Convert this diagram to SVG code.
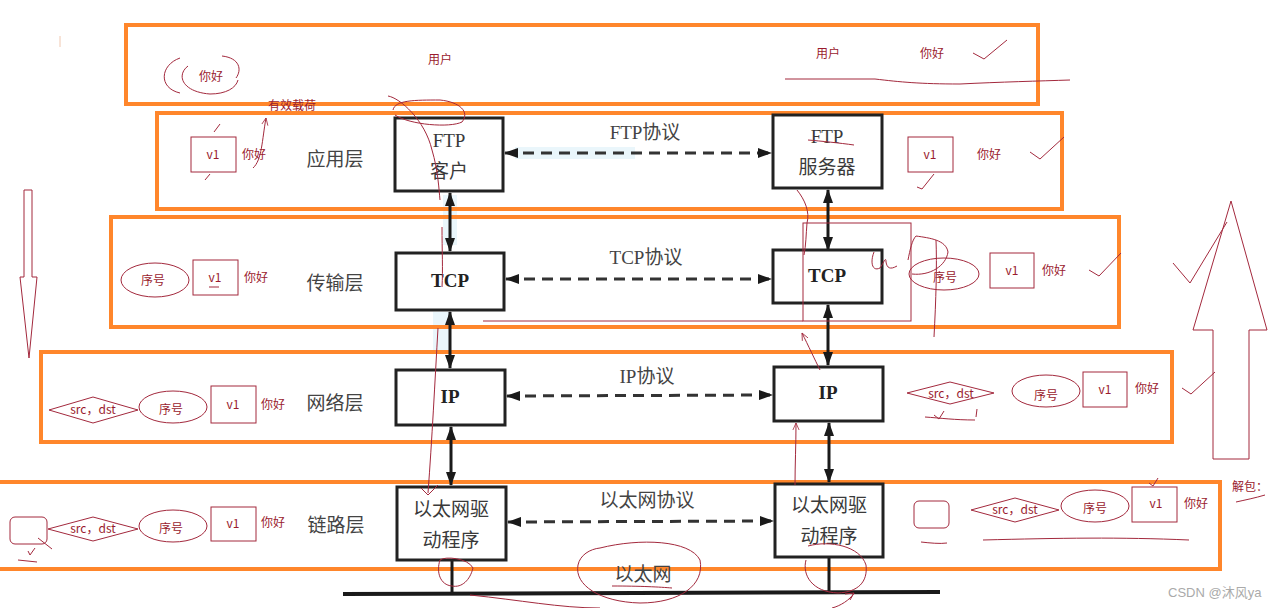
<svg xmlns="http://www.w3.org/2000/svg" width="1272" height="608" viewBox="0 0 1272 608">
<defs>
<marker id="ah" viewBox="0 0 14 10" refX="13" refY="5" markerWidth="14" markerHeight="10" markerUnits="userSpaceOnUse" orient="auto-start-reverse"><path d="M0,0 L14,5 L0,10 Z" fill="#1a1a1a"/></marker>
<marker id="rh" viewBox="0 0 10 10" refX="9" refY="5" markerWidth="8" markerHeight="8" markerUnits="userSpaceOnUse" orient="auto"><path d="M0,1 L9,5 L0,9" fill="none" stroke="#a3293d" stroke-width="1"/></marker>
<style>
.layer{fill:none;stroke:#ff862b;stroke-width:4}
.box{fill:#fff;stroke:#222;stroke-width:3}
.lbl{font-family:"Liberation Serif","Noto Sans CJK SC",serif;font-size:19px;fill:#444;text-anchor:middle}
.bt{font-family:"Liberation Serif","Noto Sans CJK SC",serif;font-size:19px;fill:#3a3a3a;text-anchor:middle}
.bb{font-family:"Liberation Serif","Noto Sans CJK SC",serif;font-size:19px;font-weight:bold;fill:#222;text-anchor:middle}
.v{stroke:#1a1a1a;stroke-width:3;fill:none}
.d{stroke:#333;stroke-width:3;stroke-dasharray:11 7;fill:none}
.r{fill:none;stroke:#a3293d;stroke-width:1}
.rt{font-family:"Noto Sans CJK SC","Liberation Sans",sans-serif;font-size:12px;fill:#9a1b2e;text-anchor:middle}
.wm{font-family:"Liberation Sans","Noto Sans CJK SC",sans-serif;font-size:13px;fill:#aaa}
</style>
</defs>
<rect width="1272" height="608" fill="#fff"/>

<!-- light blue smudges -->
<g fill="#eaf6fb">
<rect x="515" y="147" width="120" height="12"/>
<rect x="443" y="195" width="14" height="50"/>
<rect x="433" y="312" width="16" height="38"/>
</g>

<g id="layers">
<rect id="layer-user" class="layer" x="126" y="25" width="912" height="79"/>
<rect id="layer-app" class="layer" x="157" y="113" width="905" height="96"/>
<rect id="layer-transport" class="layer" x="111" y="217" width="1008" height="110"/>
<rect id="layer-network" class="layer" x="41" y="352" width="1131" height="90"/>
<rect id="layer-link" class="layer" x="-5" y="482" width="1225" height="87"/>
</g>

<g id="connectors">
<line class="v" x1="450" y1="193" x2="450" y2="251" marker-start="url(#ah)" marker-end="url(#ah)"/>
<line class="v" x1="450" y1="312" x2="450" y2="368" marker-start="url(#ah)" marker-end="url(#ah)"/>
<line class="v" x1="451" y1="427" x2="451" y2="485" marker-start="url(#ah)" marker-end="url(#ah)"/>
<line class="v" x1="452" y1="560" x2="452" y2="593"/>
<line class="v" x1="828" y1="190" x2="828" y2="250" marker-start="url(#ah)" marker-end="url(#ah)"/>
<line class="v" x1="828" y1="305" x2="828" y2="365" marker-start="url(#ah)" marker-end="url(#ah)"/>
<line class="v" x1="829" y1="423" x2="829" y2="482" marker-start="url(#ah)" marker-end="url(#ah)"/>
<line class="v" x1="829" y1="557" x2="829" y2="593"/>
<line class="d" x1="505" y1="153" x2="771" y2="153" marker-start="url(#ah)" marker-end="url(#ah)"/>
<line class="d" x1="506" y1="279" x2="771" y2="279" marker-start="url(#ah)" marker-end="url(#ah)"/>
<line class="d" x1="507" y1="396" x2="772" y2="395" marker-start="url(#ah)" marker-end="url(#ah)"/>
<line class="d" x1="508" y1="522" x2="773" y2="521" marker-start="url(#ah)" marker-end="url(#ah)"/>
<line x1="343" y1="594" x2="940" y2="592" stroke="#1a1a1a" stroke-width="4"/>
</g>

<g id="node-ftp-client"><rect class="box" x="395" y="118" width="108" height="73"/><text class="bt" x="449" y="147">FTP</text><text class="bt" x="449" y="178">客户</text></g>
<g id="node-ftp-server"><rect class="box" x="773" y="115" width="109" height="73"/><text class="bt" x="827" y="143">FTP</text><text class="bt" x="827" y="174">服务器</text></g>
<g id="node-tcp-left"><rect class="box" x="396" y="253" width="108" height="57"/><text class="bb" x="450" y="287">TCP</text></g>
<g id="node-tcp-right"><rect class="box" x="773" y="250" width="109" height="53"/><text class="bb" x="827" y="282">TCP</text></g>
<g id="node-ip-left"><rect class="box" x="396" y="370" width="109" height="55"/><text class="bb" x="450" y="403">IP</text></g>
<g id="node-ip-right"><rect class="box" x="774" y="367" width="109" height="54"/><text class="bb" x="828" y="399">IP</text></g>
<g id="node-eth-left"><rect class="box" x="397" y="487" width="109" height="73"/><text class="bt" x="451" y="516">以太网驱</text><text class="bt" x="451" y="547">动程序</text></g>
<g id="node-eth-right"><rect class="box" x="775" y="484" width="108" height="73"/><text class="bt" x="829" y="512">以太网驱</text><text class="bt" x="829" y="543">动程序</text></g>

<g id="labels">
<text class="lbl" x="335" y="166">应用层</text>
<text class="lbl" x="335" y="290">传输层</text>
<text class="lbl" x="335" y="410">网络层</text>
<text class="lbl" x="336" y="532">链路层</text>
<text class="lbl" x="645" y="139">FTP协议</text>
<text class="lbl" x="646" y="264">TCP协议</text>
<text class="lbl" x="647" y="383">IP协议</text>
<text class="lbl" x="647" y="507">以太网协议</text>
<text class="lbl" x="643" y="581">以太网</text>
</g>

<g id="annotations">
<!-- user layer -->
<text class="rt" x="440" y="64">用户</text>
<text class="rt" x="211" y="81">你好</text>
<path class="r" d="M180,58 C160,65 158,88 180,93 M188,66 C176,75 182,92 210,94 C226,94 236,88 238,80 M222,56 C240,58 242,70 236,78"/>
<text class="rt" x="292" y="110">有效载荷</text>
<path class="r" d="M253,168 C262,160 262,140 266,118" marker-end="url(#rh)"/>
<text class="rt" x="828" y="58">用户</text>
<text class="rt" x="932" y="58">你好</text>
<path class="r" d="M973,53 L984,59 L1007,40"/>
<path class="r" d="M785,79 L875,79 C900,82 920,84 960,84 C1000,82 1040,81 1070,80"/>
<line x1="60" y1="36" x2="60" y2="47" stroke="#f0c8b0" stroke-width="1"/>

<!-- app layer -->
<rect class="r" x="191" y="137" width="45" height="35"/>
<text class="rt" x="213" y="159">v1</text>
<text class="rt" x="254" y="159">你好</text>
<path class="r" d="M214,132 L220,124 M205,180 L210,174"/>
<rect class="r" x="908" y="137" width="45" height="35"/>
<text class="rt" x="930" y="159">v1</text>
<text class="rt" x="989" y="159">你好</text>
<path class="r" d="M1030,152 L1040,159 L1064,137 M917,187 L922,189 L934,174"/>
<path class="r" d="M808,140 C820,141 840,143 854,145"/>
<path class="r" d="M388,96 C400,98 425,120 432,150 C438,170 439,190 440,200"/>
<path class="r" d="M393,110 C395,100 415,100 440,100 C460,102 470,112 462,122 C450,128 410,125 395,115"/>

<!-- transport layer -->
<ellipse class="r" cx="155" cy="280" rx="34" ry="17"/>
<text class="rt" x="153" y="285">序号</text>
<rect class="r" x="193" y="260" width="45" height="35"/>
<text class="rt" x="215" y="282">v1</text>
<line class="r" x1="209" y1="287" x2="219" y2="287"/>
<text class="rt" x="256" y="282">你好</text>
<path class="r" d="M442,227 C442,250 443,270 442,287"/>
<ellipse class="r" cx="944" cy="274" rx="35" ry="16"/>
<text class="rt" x="945" y="282">序号</text>
<rect class="r" x="990" y="253" width="44" height="35"/>
<text class="rt" x="1012" y="275">v1</text>
<text class="rt" x="1054" y="275">你好</text>
<path class="r" d="M1089,270 L1099,276 L1121,253"/>
<rect class="r" x="803" y="223" width="108" height="98"/>
<line class="r" x1="483" y1="321" x2="803" y2="321"/>
<path class="r" d="M874,252 C870,262 872,272 880,268 C884,262 886,256 886,262 C887,268 890,270 897,266"/>
<path class="r" d="M908,260 C910,250 912,240 916,236 C930,238 946,240 948,252 C946,266 930,276 912,274"/>
<path class="r" d="M936,240 C937,265 936,300 934,337"/>
<path class="r" d="M797,190 C805,200 810,212 807,223 C806,235 806,245 804,255"/>

<!-- network layer -->
<polygon class="r" points="49,410 93,397 138,410 93,423"/>
<text class="rt" x="93" y="414">src，dst</text>
<ellipse class="r" cx="173" cy="407" rx="34" ry="16"/>
<text class="rt" x="171" y="414">序号</text>
<rect class="r" x="211" y="386" width="45" height="37"/>
<text class="rt" x="233" y="409">v1</text>
<text class="rt" x="273" y="409">你好</text>
<polygon class="r" points="907,393 950,382 994,393 950,404"/>
<text class="rt" x="951" y="398">src，dst</text>
<ellipse class="r" cx="1046" cy="391" rx="34" ry="16"/>
<text class="rt" x="1046" y="400">序号</text>
<rect class="r" x="1083" y="372" width="44" height="35"/>
<text class="rt" x="1105" y="394">v1</text>
<text class="rt" x="1147" y="393">你好</text>
<path class="r" d="M1182,388 L1191,394 L1215,372"/>
<path class="r" d="M934,415 L939,419 L944,411 M976,417 L977,409 M925,417 C940,418 955,420 975,420"/>
<path class="r" d="M820,370 C815,360 808,345 802,333" marker-end="url(#rh)"/>
<path class="r" d="M795,485 C795,465 796,445 796,423" marker-end="url(#rh)"/>
<path class="r" d="M438,328 C435,380 432,440 428,493 M421,488 L428,495 L438,485"/>

<!-- link layer -->
<rect class="r" x="10" y="517" width="37" height="27" rx="5"/>
<path class="r" d="M28,551 L30,555 L35,548 M18,560 L37,562 M38,538 L52,549"/>
<polygon class="r" points="48,529 93,517 138,529 93,541"/>
<text class="rt" x="93" y="533">src，dst</text>
<ellipse class="r" cx="173" cy="526" rx="34" ry="16"/>
<text class="rt" x="171" y="533">序号</text>
<rect class="r" x="211" y="507" width="45" height="34"/>
<text class="rt" x="233" y="528">v1</text>
<text class="rt" x="273" y="527">你好</text>
<rect class="r" x="914" y="501" width="35" height="27" rx="5"/>
<polygon class="r" points="971,510 1015,498 1059,510 1015,522"/>
<text class="rt" x="1015" y="514">src，dst</text>
<ellipse class="r" cx="1095" cy="506" rx="34" ry="16"/>
<text class="rt" x="1095" y="513">序号</text>
<rect class="r" x="1132" y="487" width="45" height="35"/>
<text class="rt" x="1156" y="508">v1</text>
<text class="rt" x="1196" y="508">你好</text>
<path class="r" d="M1158,478 L1153,486 M1149,483 L1153,486"/>
<text class="rt" x="1250" y="491">解包：</text>
<path class="r" d="M1236,502 C1245,500 1255,498 1265,495"/>
<path class="r" d="M983,540 C1060,538 1120,537 1189,540 M921,542 C930,543 940,544 947,543"/>
<path class="r" d="M440,560 C445,556 468,558 473,568 C470,580 462,588 452,586 C440,585 436,572 440,560"/>
<path class="r" d="M470,595 C520,600 560,608 600,608"/>
<path class="r" d="M600,548 C640,538 690,540 700,560 C705,585 680,603 640,603 C600,602 574,585 578,565 C580,555 590,549 600,548"/>
<path class="r" d="M612,586 C640,586 660,587 672,588"/>
<path class="r" d="M808,546 C830,540 860,546 866,565 C868,582 858,592 838,593 C812,592 802,575 806,560"/>
<path class="r" d="M854,593 L850,600 M854,593 L845,594 M854,593 C850,600 840,606 832,608"/>

<!-- direction arrows -->
<path class="r" d="M24,190 L32,190 L32,277 L37,277 L29,358 L20,277 L24,277 Z"/>
<path class="r" d="M1213,459 L1213,330 L1193,330 L1231,201 L1267,330 L1249,330 L1249,459 Z"/>
<path class="r" d="M1173,263 L1190,283 L1227,222"/>
</g>

<text class="wm" x="1168" y="597">CSDN @沐风ya</text>
</svg>
